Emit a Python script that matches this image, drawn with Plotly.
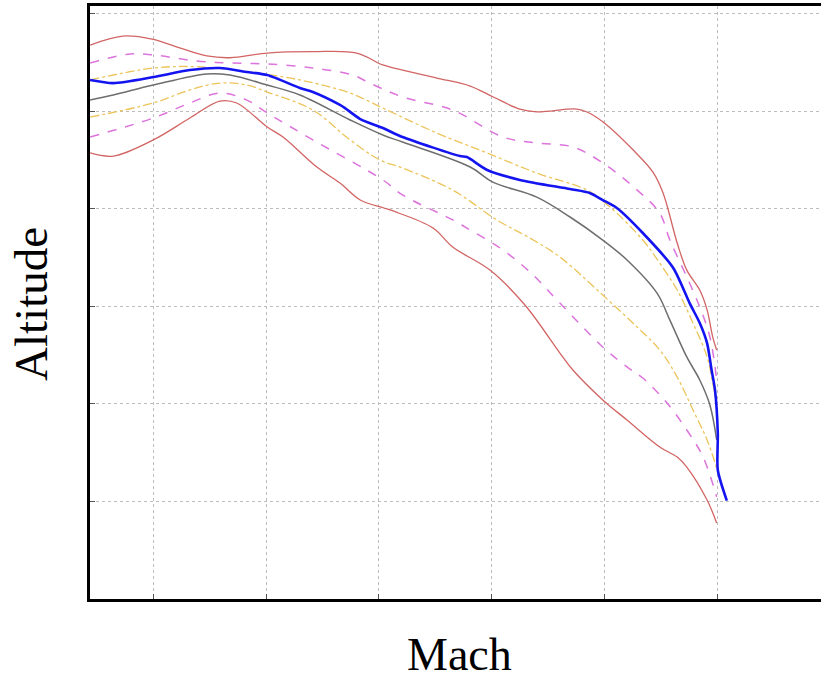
import plotly.graph_objects as go

# Mach / altitude (km) envelope bands around the nominal trajectory
upper3_mach = [0.088, 0.146, 0.200, 0.247, 0.295, 0.336, 0.402, 0.483, 0.561, 0.607, 0.642, 0.703,
               0.762, 0.802, 0.850, 0.880, 0.951, 0.969, 0.997, 1.051, 1.086, 1.104, 1.129, 1.146,
               1.169, 1.182, 1.192, 1.199]
upper3_alt = [28.38, 28.84, 28.67, 28.23, 27.82, 27.73, 27.97, 28.04, 27.97, 27.36, 27.10, 26.69,
              26.28, 25.73, 25.10, 24.96, 25.10, 24.95, 24.45, 23.00, 21.87, 20.80, 18.24, 16.85,
              15.83, 14.81, 13.42, 12.76]

upper2_mach = [0.088, 0.159, 0.200, 0.277, 0.336, 0.402, 0.483, 0.554, 0.584, 0.642, 0.731, 0.820,
               0.880, 0.944, 0.997, 1.058, 1.098, 1.116, 1.146, 1.169, 1.187, 1.199]
upper2_alt = [27.46, 27.92, 27.87, 27.56, 27.46, 27.41, 27.20, 26.84, 26.43, 25.72, 25.05, 23.67,
              23.36, 23.16, 22.34, 20.95, 19.77, 18.39, 16.50, 14.96, 13.42, 11.22]

upper1_mach = [0.088, 0.200, 0.277, 0.371, 0.460, 0.549, 0.607, 0.703, 0.792, 0.880, 0.969, 1.010,
               1.068, 1.098, 1.129, 1.157, 1.182, 1.192, 1.199]
upper1_alt = [26.59, 27.20, 27.27, 27.00, 26.59, 25.92, 25.15, 23.87, 22.85, 21.82, 20.95, 20.08,
              18.39, 17.21, 15.83, 14.14, 12.40, 11.07, 9.94]

nominal_mach = [0.088, 0.129, 0.200, 0.295, 0.336, 0.402, 0.460, 0.549, 0.607, 0.642, 0.762, 0.802,
                0.880, 0.939, 0.997, 1.040, 1.093, 1.116, 1.146, 1.169, 1.187, 1.199]
nominal_alt = [25.56, 25.82, 26.33, 26.90, 26.84, 26.33, 25.82, 24.54, 23.77, 23.41, 22.13, 21.36,
               20.59, 19.57, 18.39, 17.37, 15.68, 14.29, 12.40, 11.22, 9.94, 8.15]

lower1_mach = [0.088, 0.200, 0.265, 0.318, 0.366, 0.402, 0.483, 0.549, 0.602, 0.642, 0.731, 0.809,
               0.868, 0.921, 0.997, 1.058, 1.098, 1.129, 1.157, 1.182, 1.199]
lower1_alt = [24.69, 25.41, 26.08, 26.43, 26.33, 25.97, 25.05, 23.52, 22.49, 22.08, 20.95, 19.42,
              18.49, 17.52, 15.57, 13.93, 12.76, 11.37, 9.68, 8.15, 6.71]

lower2_mach = [0.088, 0.200, 0.265, 0.318, 0.366, 0.402, 0.483, 0.607, 0.642, 0.731, 0.762, 0.815,
               0.868, 0.921, 0.997, 1.040, 1.068, 1.111, 1.146, 1.175, 1.199]
lower2_alt = [23.67, 24.64, 25.41, 25.92, 25.56, 24.90, 23.52, 21.47, 20.70, 19.42, 18.90, 17.98,
              16.75, 15.16, 12.91, 11.89, 11.32, 10.04, 8.66, 7.27, 5.23]

lower3_mach = [0.088, 0.129, 0.200, 0.265, 0.318, 0.348, 0.402, 0.430, 0.490, 0.531, 0.567, 0.620,
               0.696, 0.731, 0.797, 0.859, 0.921, 0.944, 0.997, 1.040, 1.098, 1.129, 1.146, 1.182,
               1.199]
lower3_alt = [22.85, 22.69, 23.52, 24.64, 25.51, 25.41, 24.18, 23.67, 22.13, 21.31, 20.44, 19.93,
              19.01, 18.03, 16.85, 15.06, 12.60, 11.73, 10.20, 9.17, 7.79, 7.27, 6.76, 5.07, 3.89]

# flown trajectory
flight_mach = [0.088, 0.129, 0.200, 0.265, 0.318, 0.366, 0.402, 0.460, 0.483, 0.531, 0.540, 0.567,
               0.607, 0.642, 0.744, 0.756, 0.792, 0.850, 0.939, 0.974, 0.997, 1.022, 1.068, 1.122,
               1.151, 1.169, 1.182, 1.190, 1.196, 1.201, 1.201, 1.217]
flight_alt = [26.59, 26.43, 26.74, 27.10, 27.20, 27.00, 26.84, 26.18, 25.97, 25.31, 25.15, 24.59,
              24.13, 23.67, 22.69, 22.64, 21.98, 21.47, 21.00, 20.80, 20.44, 20.03, 18.75, 16.96,
              15.16, 14.14, 13.11, 11.73, 10.71, 8.50, 6.61, 5.04]

mach_ticks = [0.2, 0.4, 0.6, 0.8, 1.0, 1.2]
alt_ticks = [5, 10, 15, 20, 25, 30]

RED = "#d26464"
MAGENTA = "#dc74dc"
YELLOW = "#ecc45a"
GRAY = "#6e6e6e"
BLUE = "#1414f0"

fig = go.Figure()


def band(x, y, color, dash, width):
    fig.add_trace(go.Scatter(x=x, y=y, mode="lines",
                             line=dict(color=color, dash=dash, width=width,
                                       shape="spline", smoothing=1.0),
                             showlegend=False, hoverinfo="skip"))


band(upper3_mach, upper3_alt, RED, "solid", 1.3)
band(lower3_mach, lower3_alt, RED, "solid", 1.3)
band(upper2_mach, upper2_alt, MAGENTA, "dash", 1.5)
band(lower2_mach, lower2_alt, MAGENTA, "dash", 1.5)
band(upper1_mach, upper1_alt, YELLOW, "dashdot", 1.3)
band(lower1_mach, lower1_alt, YELLOW, "dashdot", 1.3)
band(nominal_mach, nominal_alt, GRAY, "solid", 1.5)

fig.add_trace(go.Scatter(x=flight_mach, y=flight_alt, mode="lines",
                         line=dict(color=BLUE, width=2.6, shape="spline", smoothing=0.7),
                         showlegend=False))

axis_common = dict(showgrid=True, gridcolor="#bdbdbd", griddash="dot", gridwidth=1,
                   showline=True, linecolor="black", linewidth=2.5,
                   ticks="inside", ticklen=5, tickcolor="#555", tickwidth=1,
                   showticklabels=False, zeroline=False)

fig.update_layout(
    width=821, height=681,
    margin=dict(l=90, r=0, t=6, b=82),
    paper_bgcolor="white", plot_bgcolor="white",
    xaxis=dict(range=[0.0878, 1.384], tickvals=mach_ticks, mirror=True, **axis_common),
    yaxis=dict(range=[0, 30.38], tickvals=alt_ticks, mirror=False, **axis_common),
    annotations=[
        dict(text="Mach", xref="paper", yref="paper", x=0.506, y=-0.093,
             xanchor="center", yanchor="middle", showarrow=False,
             font=dict(family="Liberation Serif", size=46, color="black")),
        dict(text="Altitude", xref="paper", yref="paper", x=-0.0807, y=0.4975,
             xanchor="center", yanchor="middle", showarrow=False, textangle=-90,
             font=dict(family="Liberation Serif", size=47, color="black")),
    ],
)

fig.write_html("out.html")
